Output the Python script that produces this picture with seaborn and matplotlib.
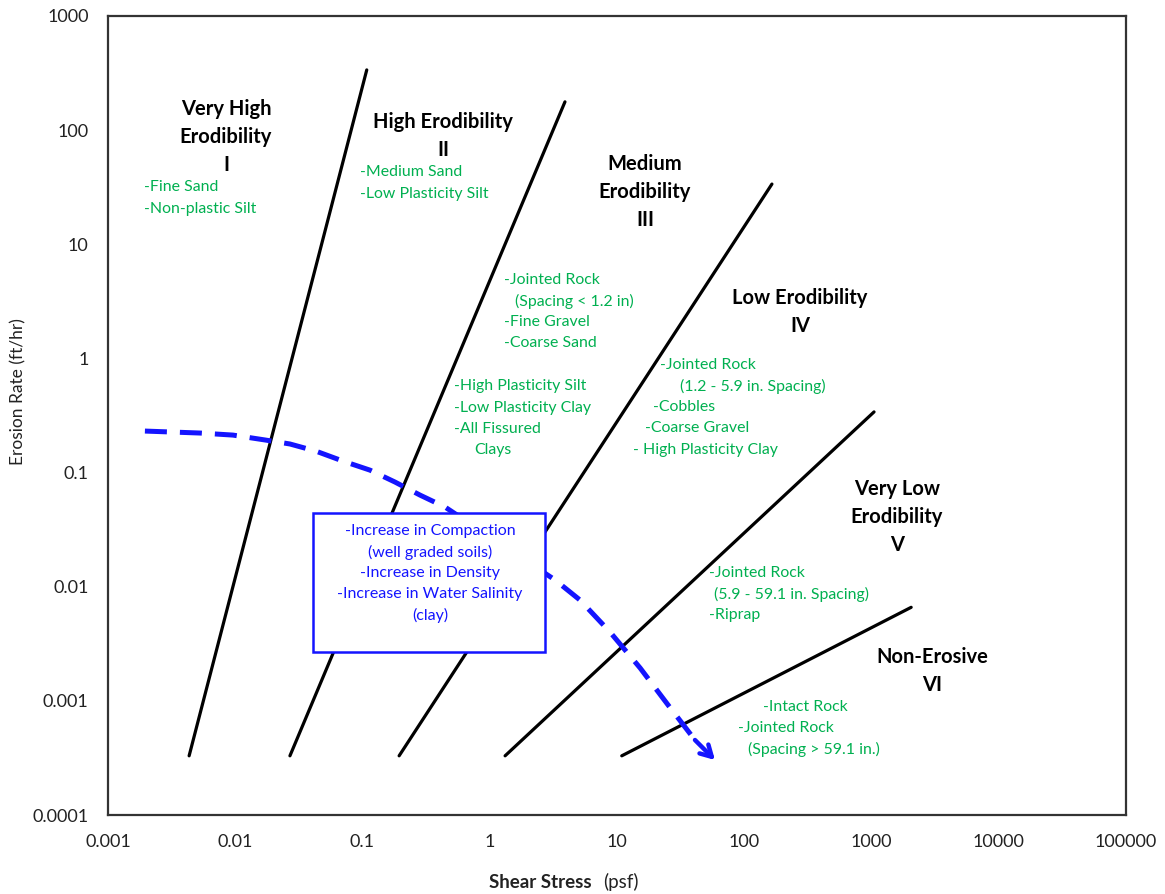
import numpy as np
import pandas as pd
import matplotlib
matplotlib.use("Agg")
import matplotlib.pyplot as plt
import seaborn as sns
from matplotlib.ticker import FixedLocator, FixedFormatter, LogLocator, NullFormatter
from matplotlib.patches import Rectangle

# Erodibility category boundaries: shear stress (psf) vs erosion rate (ft/hr)
boundary_names = ["I-II", "II-III", "III-IV", "IV-V", "V-VI"]
boundary_stress_low = [0.00434, 0.0269, 0.194, 1.32, 10.9]
boundary_stress_high = [0.108, 3.90, 165.0, 1047.0, 2050.0]
boundary_rate_low = [0.00033, 0.00033, 0.00033, 0.00033, 0.00033]
boundary_rate_high = [337.0, 177.0, 33.7, 0.34, 0.0066]

# Trend arrow: effect of compaction, density and salinity
trend_stress = [0.00195, 0.00528, 0.00959, 0.01714, 0.0269, 0.0431, 0.0703,
                0.1146, 0.180, 0.283, 0.445, 3.26, 5.12, 8.81, 15.2, 25.2, 41.0, 58.9]
trend_rate = [0.231, 0.222, 0.213, 0.193, 0.178, 0.154, 0.126,
              0.105, 0.0826, 0.0635, 0.0499, 0.01146, 0.00764, 0.00401, 0.00194,
              0.00092, 0.000454, 0.000303]

x_ticks = [0.001, 0.01, 0.1, 1, 10, 100, 1000, 10000, 100000]
x_tick_labels = ["0.001", "0.01", "0.1", "1", "10", "100", "1000", "10000", "100000"]
y_ticks = [0.0001, 0.001, 0.01, 0.1, 1, 10, 100, 1000]
y_tick_labels = ["0.0001", "0.001", "0.01", "0.1", "1", "10", "100", "1000"]

sns.set_style("white")
plt.rcParams["font.family"] = ["Lato", "DejaVu Sans"]

W, H = 1165, 894
BLUE = "#1414ff"
GREEN = "#00b050"


def fx(px):
    return px / W


def fy(py):
    return 1 - py / H


fig = plt.figure(figsize=(W / 100, H / 100), dpi=100)
ax = fig.add_axes([fx(108), fy(815), (1126 - 108) / W, (815 - 16) / H])
ax.set(xscale="log", yscale="log")

rows = []
for name, x0, x1, y0, y1 in zip(boundary_names, boundary_stress_low, boundary_stress_high,
                                boundary_rate_low, boundary_rate_high):
    rows.append({"boundary": name, "stress": x0, "rate": y0})
    rows.append({"boundary": name, "stress": x1, "rate": y1})
bounds = pd.DataFrame(rows)

sns.lineplot(data=bounds, x="stress", y="rate", units="boundary", estimator=None,
             sort=False, color="black", lw=2.3, ax=ax, zorder=2)

trend = pd.DataFrame({"stress": trend_stress[:-1], "rate": trend_rate[:-1]})
sns.lineplot(data=trend, x="stress", y="rate", estimator=None, sort=False,
             color=BLUE, lw=3.6, ax=ax, zorder=3)
ax.lines[-1].set_dashes((4.4, 2.6))
ax.lines[-1].set_solid_capstyle("butt")
ax.annotate("", xy=(trend_stress[-1], trend_rate[-1]),
            xytext=(trend_stress[-2], trend_rate[-2]),
            arrowprops=dict(arrowstyle="->,head_length=0.8,head_width=0.45",
                            color=BLUE, lw=3.2, shrinkA=0, shrinkB=0), zorder=3)

ax.set_xlim(0.001, 100000)
ax.set_ylim(0.0001, 1000)
ax.xaxis.set_major_locator(FixedLocator(x_ticks))
ax.xaxis.set_major_formatter(FixedFormatter(x_tick_labels))
ax.yaxis.set_major_locator(FixedLocator(y_ticks))
ax.yaxis.set_major_formatter(FixedFormatter(y_tick_labels))
ax.xaxis.set_minor_locator(LogLocator(base=10, subs=np.arange(2, 10), numticks=20))
ax.yaxis.set_minor_locator(LogLocator(base=10, subs=np.arange(2, 10), numticks=20))
ax.xaxis.set_minor_formatter(NullFormatter())
ax.yaxis.set_minor_formatter(NullFormatter())
ax.tick_params(which="major", direction="inout", length=12, width=1.5,
               labelsize=13, colors="#222222", pad=8)
ax.tick_params(which="minor", direction="in", length=6, width=1.3, colors="#222222")
ax.tick_params(top=False, right=False, which="both")
ax.set_xlabel("")
ax.set_ylabel("")
for s in ax.spines.values():
    s.set_color("#333333")
    s.set_linewidth(1.6)
    s.set_visible(True)

# Text box describing the trend
box = Rectangle((fx(313), fy(652)), (545 - 313) / W, (652 - 513) / H,
                transform=fig.transFigure, facecolor="white", edgecolor=BLUE,
                lw=1.8, zorder=5)
fig.patches.append(box)
box_lines = ["-Increase in Compaction", "(well graded soils)", "-Increase in Density",
             "-Increase in Water Salinity", "(clay)"]
for i, t in enumerate(box_lines):
    fig.text(fx(430), fy(531 + 21 * i), t, color=BLUE, fontsize=11.5,
             ha="center", va="center", zorder=6)

# Category titles
titles = [
    ("Very High\nErodibility\nI", 226, 137),
    ("High Erodibility\nII", 443, 136),
    ("Medium\nErodibility\nIII", 645, 192),
    ("Low Erodibility\nIV", 800, 312),
    ("Very Low\nErodibility\nV", 897, 517),
    ("Non-Erosive\nVI", 932, 671),
]
for t, px, py in titles:
    fig.text(fx(px), fy(py), t, fontsize=14.5, fontweight="bold", color="black",
             ha="center", va="center", linespacing=1.5)

# Material descriptions
materials = [
    ("-Fine Sand", 144, 187), ("-Non-plastic Silt", 144, 209),
    ("-Medium Sand", 360, 172), ("-Low Plasticity Silt", 360, 194),
    ("-Jointed Rock", 504, 280), ("(Spacing < 1.2 in)", 515, 301),
    ("-Fine Gravel", 504, 322), ("-Coarse Sand", 504, 343),
    ("-High Plasticity Silt", 454, 386), ("-Low Plasticity Clay", 454, 408),
    ("-All Fissured", 454, 429), ("Clays", 474, 450),
    ("-Jointed Rock", 660, 365), ("(1.2 - 5.9 in. Spacing)", 680, 386),
    ("-Cobbles", 653, 407), ("-Coarse Gravel", 645, 428),
    ("- High Plasticity Clay", 633, 450),
    ("-Jointed Rock", 709, 573), ("(5.9 - 59.1 in. Spacing)", 714, 594),
    ("-Riprap", 709, 615),
    ("-Intact Rock", 763, 707), ("-Jointed Rock", 738, 728),
    ("(Spacing > 59.1 in.)", 748, 749),
]
for t, px, py in materials:
    fig.text(fx(px), fy(py), t, fontsize=11.4, color=GREEN, ha="left", va="center")

# Axis titles
fig.text(fx(18), fy(392), "Erosion Rate (ft/hr)", rotation=90, fontsize=12.5,
         color="#222222", ha="center", va="center")
fig.text(fx(592), fy(882), "Shear Stress", fontsize=13.5, fontweight="bold",
         color="#222222", ha="right", va="center")
fig.text(fx(603), fy(882), "(psf)", fontsize=13.5, color="#222222",
         ha="left", va="center")

fig.savefig("out.png", dpi=100)
